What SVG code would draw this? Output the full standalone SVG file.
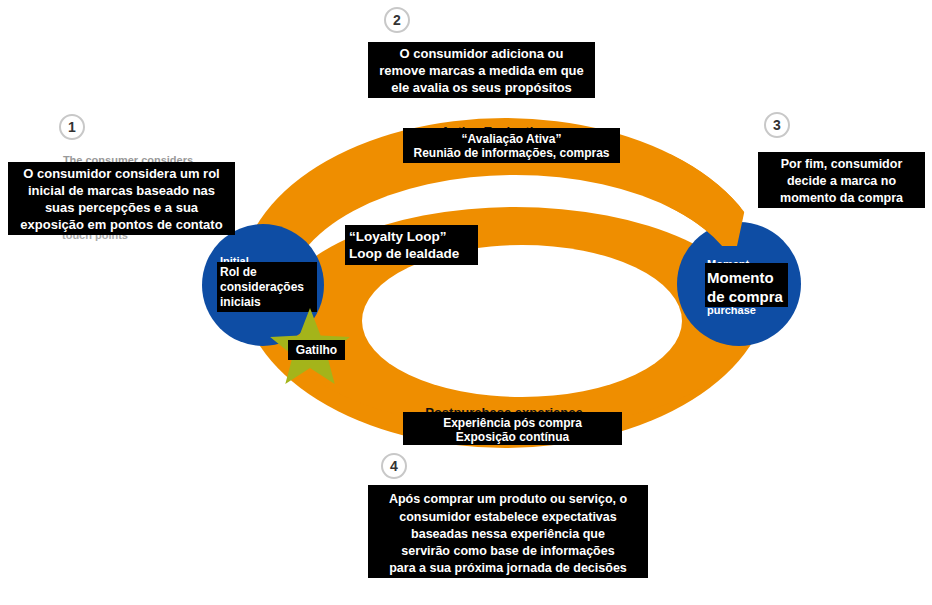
<svg xmlns="http://www.w3.org/2000/svg" width="932" height="605" viewBox="0 0 932 605">
<defs>
<style>
.box{fill:#000;}
.t{font-family:"Liberation Sans",Arial,sans-serif;font-weight:bold;fill:#fff;}
.c{text-anchor:middle;}
.ghost{font-family:"Liberation Sans",Arial,sans-serif;font-weight:bold;}
.num{fill:#fff;stroke:#c8c8c8;stroke-width:2;}
.numt{font-family:"Liberation Sans",Arial,sans-serif;font-weight:bold;fill:#333;font-size:14px;text-anchor:middle;}
.orange{fill:#EF8E00;}
.blue{fill:#0E4DA4;}
</style>
<clipPath id="endclip"><polygon points="670,140 760,140 746,204 737,246 670,246"/></clipPath>
</defs>
<rect width="932" height="605" fill="#fff"/>

<g id="connectors">
<g id="loops">
<ellipse class="orange" cx="505" cy="283" rx="265" ry="165"/>
<ellipse fill="#fff" cx="515" cy="297" rx="228" ry="122"/>
<ellipse class="orange" cx="515" cy="318" rx="240" ry="111"/>
<ellipse fill="#fff" cx="522" cy="321" rx="160" ry="76"/>
<polygon fill="#fff" points="746,150 800,150 800,225 737,246"/>
</g>
</g>

<g id="node-purchase">
<circle class="blue" cx="739" cy="284" r="62"/>
<path class="orange" clip-path="url(#endclip)" fill-rule="evenodd" d="M240,283 A265,165 0 1,0 770,283 A265,165 0 1,0 240,283 Z M287,297 A228,122 0 1,0 743,297 A228,122 0 1,0 287,297 Z"/>
<text class="ghost" x="707" y="268" font-size="11" fill="#fff">Moment</text>
<text class="ghost" x="707" y="314" font-size="11" fill="#fff">purchase</text>
<rect class="box" x="705" y="263" width="83" height="44"/>
<text class="t" x="707" y="283" font-size="15">Momento</text>
<text class="t" x="707" y="302" font-size="15">de compra</text>
</g>

<g id="node-initial">
<circle class="blue" cx="263" cy="285" r="61"/>
<text class="ghost" x="220" y="265" font-size="11" fill="#fff">Initial</text>
<rect class="box" x="217" y="262" width="100" height="50"/>
<text class="t" x="220" y="276" font-size="12">Rol de</text>
<text class="t" x="220" y="291" font-size="12">considerações</text>
<text class="t" x="220" y="306" font-size="12">iniciais</text>
</g>

<g id="node-trigger">
<polygon fill="#A4B41A" points="310,308 320.6,335.4 349.9,337 327.1,355.6 334.7,384 310,368 285.3,384 292.9,355.6 270.1,337 299.4,335.4"/>
<rect class="box" x="288" y="340" width="57" height="20"/>
<text class="t c" x="316.5" y="354" font-size="12">Gatilho</text>
</g>

<g id="label-active">
<text class="ghost c" x="495" y="136" font-size="13" fill="#111">Active Evaluation</text>
<rect class="box" x="403" y="128" width="217" height="35"/>
<text class="t c" x="511.5" y="143" font-size="12">“Avaliação Ativa”</text>
<text class="t c" x="511.5" y="157" font-size="12">Reunião de informações, compras</text>
</g>

<g id="label-loyalty">
<rect class="box" x="345" y="225" width="133" height="40"/>
<text class="t" x="349" y="241" font-size="13.5">“Loyalty Loop”</text>
<text class="t" x="349" y="258" font-size="13.5">Loop de lealdade</text>
</g>

<g id="label-post">
<text class="ghost c" x="504" y="417" font-size="13" fill="#111">Postpurchase experience</text>
<rect class="box" x="403" y="412" width="219" height="33"/>
<text class="t c" x="512.5" y="427" font-size="12">Experiência pós compra</text>
<text class="t c" x="512.5" y="441" font-size="12">Exposição contínua</text>
</g>

<g id="step1">
<circle class="num" cx="72" cy="127" r="12"/>
<text class="numt" x="72" y="132">1</text>
<text class="ghost c" x="128" y="164" font-size="11" fill="#999">The consumer considers</text>
<text class="ghost c" x="95" y="239" font-size="11" fill="#aaa">touch points</text>
<rect class="box" x="8" y="162" width="227" height="73"/>
<text class="t c" x="121.5" y="178" font-size="13">O consumidor considera um rol</text>
<text class="t c" x="121.5" y="195" font-size="13">inicial de marcas baseado nas</text>
<text class="t c" x="121.5" y="212" font-size="13">suas percepções e a sua</text>
<text class="t c" x="121.5" y="229" font-size="13">exposição em pontos de contato</text>
</g>

<g id="step2">
<circle class="num" cx="397" cy="20" r="12"/>
<text class="numt" x="397" y="25">2</text>
<rect class="box" x="368" y="42" width="227" height="56"/>
<text class="t c" x="481.5" y="58" font-size="13">O consumidor adiciona ou</text>
<text class="t c" x="481.5" y="75" font-size="13">remove marcas a medida em que</text>
<text class="t c" x="481.5" y="92" font-size="13">ele avalia os seus propósitos</text>
</g>

<g id="step3">
<circle class="num" cx="777" cy="125" r="12"/>
<text class="numt" x="777" y="130">3</text>
<rect class="box" x="758" y="152" width="167" height="56"/>
<text class="t c" x="841.5" y="168" font-size="12.5">Por fim,  consumidor</text>
<text class="t c" x="841.5" y="185" font-size="12.5">decide a marca no</text>
<text class="t c" x="841.5" y="202" font-size="12.5">momento da compra</text>
</g>

<g id="step4">
<circle class="num" cx="394" cy="466" r="12"/>
<text class="numt" x="394" y="471">4</text>
<rect class="box" x="368" y="485" width="280" height="93"/>
<text class="t c" x="508" y="503" font-size="12.5">Após comprar um produto ou serviço, o</text>
<text class="t c" x="508" y="521" font-size="12.5">consumidor estabelece expectativas</text>
<text class="t c" x="508" y="538" font-size="12.5">baseadas nessa experiência que</text>
<text class="t c" x="508" y="555" font-size="12.5">servirão como base de informações</text>
<text class="t c" x="508" y="572" font-size="12.5">para a sua próxima jornada de decisões</text>
</g>
</svg>
